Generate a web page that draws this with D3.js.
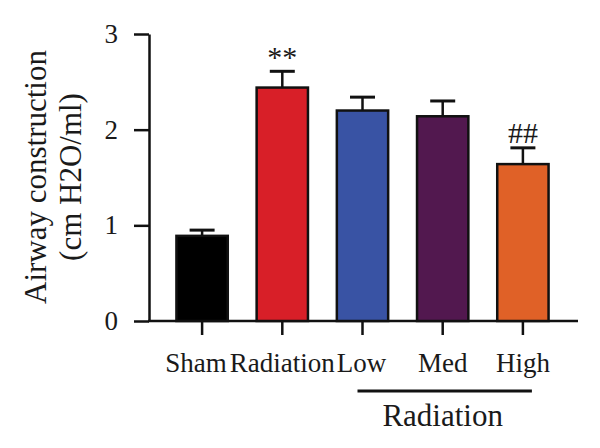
<!DOCTYPE html>
<html>
<head>
<meta charset="utf-8">
<script src="https://cdn.jsdelivr.net/npm/d3@7"></script>
<style>
  body { margin: 0; background: #fff; }
  text { font-family: "Liberation Serif", "Times New Roman", serif; fill: #1a1a1a; }
</style>
</head>
<body>
<svg id="chart"></svg>
<script>
// data
const groups = ["Sham", "Radiation", "Low", "Med", "High"];
const means = [0.89, 2.44, 2.20, 2.14, 1.64];
const errors = [0.06, 0.17, 0.14, 0.16, 0.17];
const colors = ["#000000", "#d81f28", "#3953a4", "#52184f", "#e06127"];
const marks = ["", "**", "", "", "##"];
const yTicks = [0, 1, 2, 3];

(() => {
    const width = 600;
    const height = 448;

    const svg = d3.select("#chart")
        .attr("width", width)
        .attr("height", height);

    const y = d3.scaleLinear().domain([0, 3]).range([321, 34]);
    const x = d3.scaleBand()
        .domain(groups)
        .range([162, 563])
        .paddingInner(0.36)
        .paddingOuter(0.18);
    const cx = d => x(d) + x.bandwidth() / 2;

    // y axis
    const yAxis = svg.append("g")
        .attr("transform", "translate(149,0)")
        .call(d3.axisLeft(y).tickValues(yTicks).tickFormat(d3.format("d"))
            .tickSize(15).tickSizeOuter(0).tickPadding(16));
    yAxis.select(".domain").attr("stroke", "#111").attr("stroke-width", 2.5);
    yAxis.selectAll(".tick line").attr("stroke", "#111").attr("stroke-width", 2.5);
    yAxis.selectAll(".tick text")
        .attr("font-size", "27px")
        .attr("font-family", "Liberation Serif, serif")
        .attr("fill", "#1a1a1a");

    // x axis
    const xAxis = svg.append("g")
        .attr("transform", "translate(0,321)")
        .call(d3.axisBottom(x).tickSize(14).tickSizeOuter(0).tickPadding(18));
    xAxis.select(".domain").remove();
    xAxis.selectAll(".tick line").attr("stroke", "#111").attr("stroke-width", 2.5);
    xAxis.selectAll(".tick text")
        .attr("font-size", "27px")
        .attr("font-family", "Liberation Serif, serif")
        .attr("fill", "#1a1a1a")
        .attr("dx", d => d === "Sham" ? -6 : (d === "Low" ? -1 : 0));

    svg.append("line")
        .attr("x1", 148).attr("x2", 578)
        .attr("y1", 321).attr("y2", 321)
        .attr("stroke", "#111")
        .attr("stroke-width", 2.5);

    // error bars (drawn first so bars sit on top)
    const eb = svg.append("g")
        .selectAll("g")
        .data(groups)
        .enter()
        .append("g");

    eb.append("line")
        .attr("x1", cx)
        .attr("x2", cx)
        .attr("y1", (d, i) => y(means[i]))
        .attr("y2", (d, i) => y(means[i] + errors[i]))
        .attr("stroke", "#111")
        .attr("stroke-width", 2.5);

    eb.append("line")
        .attr("x1", d => cx(d) - 12.5)
        .attr("x2", d => cx(d) + 12.5)
        .attr("y1", (d, i) => y(means[i] + errors[i]))
        .attr("y2", (d, i) => y(means[i] + errors[i]))
        .attr("stroke", "#111")
        .attr("stroke-width", 3);

    // bars
    svg.append("g")
        .selectAll("rect")
        .data(groups)
        .enter()
        .append("rect")
        .attr("x", d => x(d))
        .attr("width", x.bandwidth())
        .attr("y", (d, i) => y(means[i]))
        .attr("height", (d, i) => y(0) - y(means[i]))
        .attr("fill", (d, i) => colors[i])
        .attr("stroke", "#111")
        .attr("stroke-width", 2.5);

    // significance marks
    svg.append("g")
        .selectAll("text")
        .data(groups)
        .enter()
        .append("text")
        .attr("x", cx)
        .attr("y", (d, i) => y(means[i] + errors[i]) - (marks[i] === "**" ? 4 : 5))
        .attr("text-anchor", "middle")
        .attr("font-size", "30px")
        .text((d, i) => marks[i]);

    // group bracket for the radiation doses
    svg.append("line")
        .attr("x1", cx("Low") - 5).attr("x2", cx("High") + 9)
        .attr("y1", 391).attr("y2", 391)
        .attr("stroke", "#111")
        .attr("stroke-width", 3);

    svg.append("text")
        .attr("x", cx("Med"))
        .attr("y", 426)
        .attr("text-anchor", "middle")
        .attr("font-size", "31px")
        .text("Radiation");

    // y title
    const title = svg.append("text")
        .attr("transform", "translate(0,177) rotate(-90)")
        .attr("text-anchor", "middle")
        .attr("font-size", "31px");
    title.append("tspan").attr("x", 0).attr("y", 46).text("Airway construction");
    title.append("tspan").attr("x", 0).attr("y", 81).text("(cm H2O/ml)");
})();
</script>
</body>
</html>
